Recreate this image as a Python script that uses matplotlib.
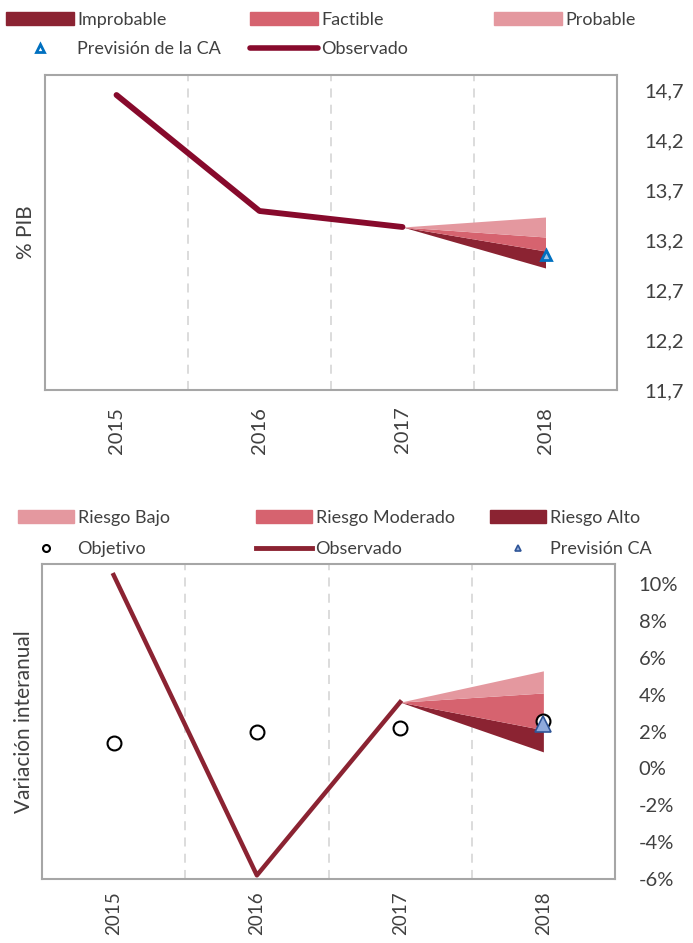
import matplotlib
matplotlib.use("Agg")
import matplotlib.pyplot as plt
from matplotlib.patches import Patch
from matplotlib.lines import Line2D

plt.rcParams['font.family'] = ['Lato', 'DejaVu Sans']

# ---------------- data ----------------
years = ["2015", "2016", "2017", "2018"]

# Top chart (% PIB)
top_observed = [14.65, 13.49, 13.33]
top_fan_start = 13.33
top_probable_upper = 13.43
top_probable_lower = 13.23
top_factible_lower = 13.09
top_improbable_lower = 12.92
top_prevision = 13.05
top_yticks = [11.7, 12.2, 12.7, 13.2, 13.7, 14.2, 14.7]
top_yticklabels = ["11,7", "12,2", "12,7", "13,2", "13,7", "14,2", "14,7"]

# Bottom chart (variación interanual, %)
bot_observed = [10.5, -5.8, 3.6]
bot_objetivo = [1.4, 2.0, 2.2, 2.6]
bot_fan_start = 3.6
bot_bajo_upper = 5.3
bot_bajo_lower = 4.1
bot_moderado_lower = 2.1
bot_alto_lower = 0.9
bot_prevision = 2.4
bot_yticks = [-6, -4, -2, 0, 2, 4, 6, 8, 10]
bot_yticklabels = ["-6%", "-4%", "-2%", "0%", "2%", "4%", "6%", "8%", "10%"]

# ---------------- styles ----------------
C_DARK = "#8B2332"
C_MID = "#D6636F"
C_LIGHT = "#E4989F"
C_OBS_TOP = "#870A2C"
FRAME = "#A6A6A6"
TXT = "#404040"
W, H = 693, 943

fig = plt.figure(figsize=(6.93, 9.43), dpi=100)

def style_axes(ax, label):
    for s in ax.spines.values():
        s.set_color(FRAME)
        s.set_linewidth(1.5)
    ax.yaxis.tick_right()
    ax.tick_params(axis='both', length=0, colors=TXT, labelsize=14.5)
    ax.set_xticks(range(len(years)))
    ax.set_xticklabels(years, rotation=90)
    ax.set_xlim(-0.5, len(years) - 0.5)
    for xv in [0.5, 1.5, 2.5]:
        ax.axvline(xv, color="#D9D9D9", lw=1.3, ls=(0, (5, 4)), zorder=0)
    ax.set_ylabel(label, fontsize=15, color=TXT)

def column_legend(handles, labels, x_px, y_px, hl, spacing):
    leg = fig.legend(handles, labels, loc='upper left', bbox_to_anchor=(x_px / W, 1 - y_px / H),
                     frameon=False, fontsize=13, handlelength=hl, handleheight=0.75,
                     handletextpad=0.2, labelcolor=TXT, borderaxespad=0, borderpad=0,
                     labelspacing=spacing)
    return leg

# ---------- top chart ----------
ax1 = fig.add_axes([45/W, 1-390/H, 572/W, 315/H])
x_obs = list(range(len(top_observed)))
ax1.fill_between([2, 3], [top_fan_start, top_improbable_lower], [top_fan_start, top_factible_lower],
                 color=C_DARK, lw=0, zorder=2)
ax1.fill_between([2, 3], [top_fan_start, top_factible_lower], [top_fan_start, top_probable_lower],
                 color=C_MID, lw=0, zorder=2)
ax1.fill_between([2, 3], [top_fan_start, top_probable_lower], [top_fan_start, top_probable_upper],
                 color=C_LIGHT, lw=0, zorder=2)
ax1.plot(x_obs, top_observed, color=C_OBS_TOP, lw=4.2, solid_capstyle='round',
         solid_joinstyle='round', zorder=3)
ax1.plot([3], [top_prevision], marker='^', ms=6.5, mfc="#9DC3E6", mec="#0070C0", mew=2,
         ls='none', zorder=4)
ax1.set_ylim(11.7, 14.85)
ax1.set_yticks(top_yticks)
ax1.set_yticklabels(top_yticklabels)
style_axes(ax1, "% PIB")
ax1.tick_params(axis='y', pad=20)
ax1.tick_params(axis='x', pad=12)
ax1.yaxis.set_label_coords(-0.015, 0.5)

tri_top = Line2D([], [], marker='^', ls='none', ms=6, mfc='white', mec="#0070C0", mew=2)
obs_top = Line2D([], [], color=C_OBS_TOP, lw=4, solid_capstyle='round')
column_legend([Patch(color=C_DARK), tri_top], ["Improbable", "Previsión de la CA"], 6, 12, 3.75, 0.72)
column_legend([Patch(color=C_MID), obs_top], ["Factible", "Observado"], 250, 12, 3.75, 0.72)
column_legend([Patch(color=C_LIGHT)], ["Probable"], 494, 12, 3.75, 0.72)

# ---------- bottom chart ----------
ax2 = fig.add_axes([42/W, 1-879/H, 573/W, 315/H])
ax2.fill_between([2, 3], [bot_fan_start, bot_alto_lower], [bot_fan_start, bot_moderado_lower],
                 color=C_DARK, lw=0, zorder=2)
ax2.fill_between([2, 3], [bot_fan_start, bot_moderado_lower], [bot_fan_start, bot_bajo_lower],
                 color=C_MID, lw=0, zorder=2)
ax2.fill_between([2, 3], [bot_fan_start, bot_bajo_lower], [bot_fan_start, bot_bajo_upper],
                 color=C_LIGHT, lw=0, zorder=2)
ax2.plot(range(len(bot_observed)), bot_observed, color=C_DARK, lw=3.2, zorder=3)
ax2.plot(range(len(bot_objetivo)), bot_objetivo, marker='o', ms=10, mfc='white', mec='black',
         mew=1.5, ls='none', zorder=4)
ax2.plot([3], [bot_prevision], marker='^', ms=11, mfc="#8FAADC", mec="#2F5597", mew=1.2,
         ls='none', zorder=5)
ax2.set_ylim(-6, 11.1)
ax2.set_yticks(bot_yticks)
ax2.set_yticklabels(bot_yticklabels)
style_axes(ax2, "Variación interanual")
ax2.tick_params(axis='y', pad=17)
ax2.tick_params(axis='x', pad=9, labelsize=13.5)
ax2.yaxis.set_label_coords(-0.014, 0.5)

circ = Line2D([], [], marker='o', ls='none', ms=5, mfc='white', mec='black', mew=1.5)
obs_bot = Line2D([], [], color=C_DARK, lw=3.5)
tri_bot = Line2D([], [], marker='^', ls='none', ms=5, mfc="#8FAADC", mec="#2F5597", mew=1.2)
column_legend([Patch(color=C_LIGHT), circ], ["Riesgo Bajo", "Objetivo"], 18, 510, 3.1, 0.85)
column_legend([Patch(color=C_MID), obs_bot], ["Riesgo Moderado", "Observado"], 256, 510, 3.1, 0.85)
column_legend([Patch(color=C_DARK), tri_bot], ["Riesgo Alto", "Previsión CA"], 490, 510, 3.1, 0.85)

fig.savefig("out.png", dpi=100)
